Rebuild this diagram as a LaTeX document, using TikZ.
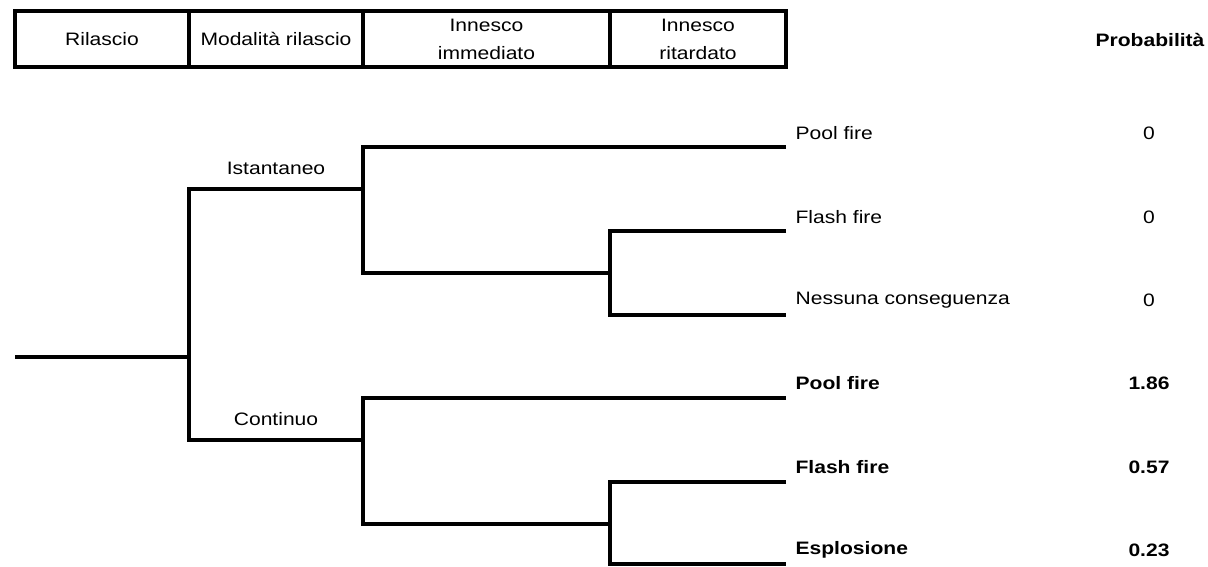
\documentclass[tikz,border=0pt]{standalone}
\usepackage{fontspec}
\setmainfont{Liberation Sans}[FakeStretch=1.17]

\begin{document}
\begin{tikzpicture}[x=1pt,y=-1pt,line width=3.2pt,
        every node/.style={font=\fontsize{18}{28}\selectfont, inner sep=0pt},
        cell/.style={draw, minimum height=56pt, align=center},
        esito/.style={anchor=west},
        prob/.style={anchor=center}]
                \useasboundingbox (0,0) rectangle (1208,567);

                % intestazione
                \node[cell, minimum width=174pt] at (102,39) (H1) {Rilascio};
                \node[cell, minimum width=174pt] at (276,39) (H2) {Modalità rilascio};
                \node[cell, minimum width=247pt] at (486.5,39) (H3) {Innesco\\immediato};
                \node[cell, minimum width=176pt] at (698,39) (H4) {Innesco\\ritardato};
                \node[font=\fontsize{18}{28}\selectfont\bfseries] at (1150,40) (P) {Probabilità};

                % albero degli eventi
                \coordinate (R0) at (15,357);
                \coordinate (R1) at (189,357);
                \coordinate (I) at (363,189);
                \coordinate (C) at (363,440);
                \coordinate (I1) at (786,147);
                \coordinate (IR) at (610,273);
                \coordinate (IR1) at (786,231);
                \coordinate (IR2) at (786,315);
                \coordinate (C1) at (786,398);
                \coordinate (CR) at (610,524);
                \coordinate (CR1) at (786,482);
                \coordinate (CR2) at (786,564);

                \draw (R0) -- (R1);
                \draw (I) -| (R1) |- (C);
                \draw (I1) -| (I) |- (IR);
                \draw (IR1) -| (IR) |- (IR2);
                \draw (C1) -| (C) |- (CR);
                \draw (CR1) -| (CR) |- (CR2);

                \node at (276,168) (Ist) {Istantaneo};
                \node at (276,419) (Con) {Continuo};

                \node[esito] at (794,133) (E1) {Pool fire};
                \node[esito] at (794,217) (E2) {Flash fire};
                \node[esito] at (794,300) (E3) {Nessuna conseguenza};
                \node[esito, font=\fontsize{18}{28}\selectfont\bfseries] at (794,383) (E4) {Pool fire};
                \node[esito, font=\fontsize{18}{28}\selectfont\bfseries] at (794,467) (E5) {Flash fire};
                \node[esito, font=\fontsize{18}{28}\selectfont\bfseries] at (794,550) (E6) {Esplosione};

                \node[prob] at (1149,133) (P1) {0};
                \node[prob] at (1149,217) (P2) {0};
                \node[prob] at (1149,300) (P3) {0};
                \node[prob, font=\fontsize{18}{28}\selectfont\bfseries] at (1149,383) (P4) {1.86};
                \node[prob, font=\fontsize{18}{28}\selectfont\bfseries] at (1149,467) (P5) {0.57};
                \node[prob, font=\fontsize{18}{28}\selectfont\bfseries] at (1149,550) (P6) {0.23};
            \end{tikzpicture}
\end{document}
